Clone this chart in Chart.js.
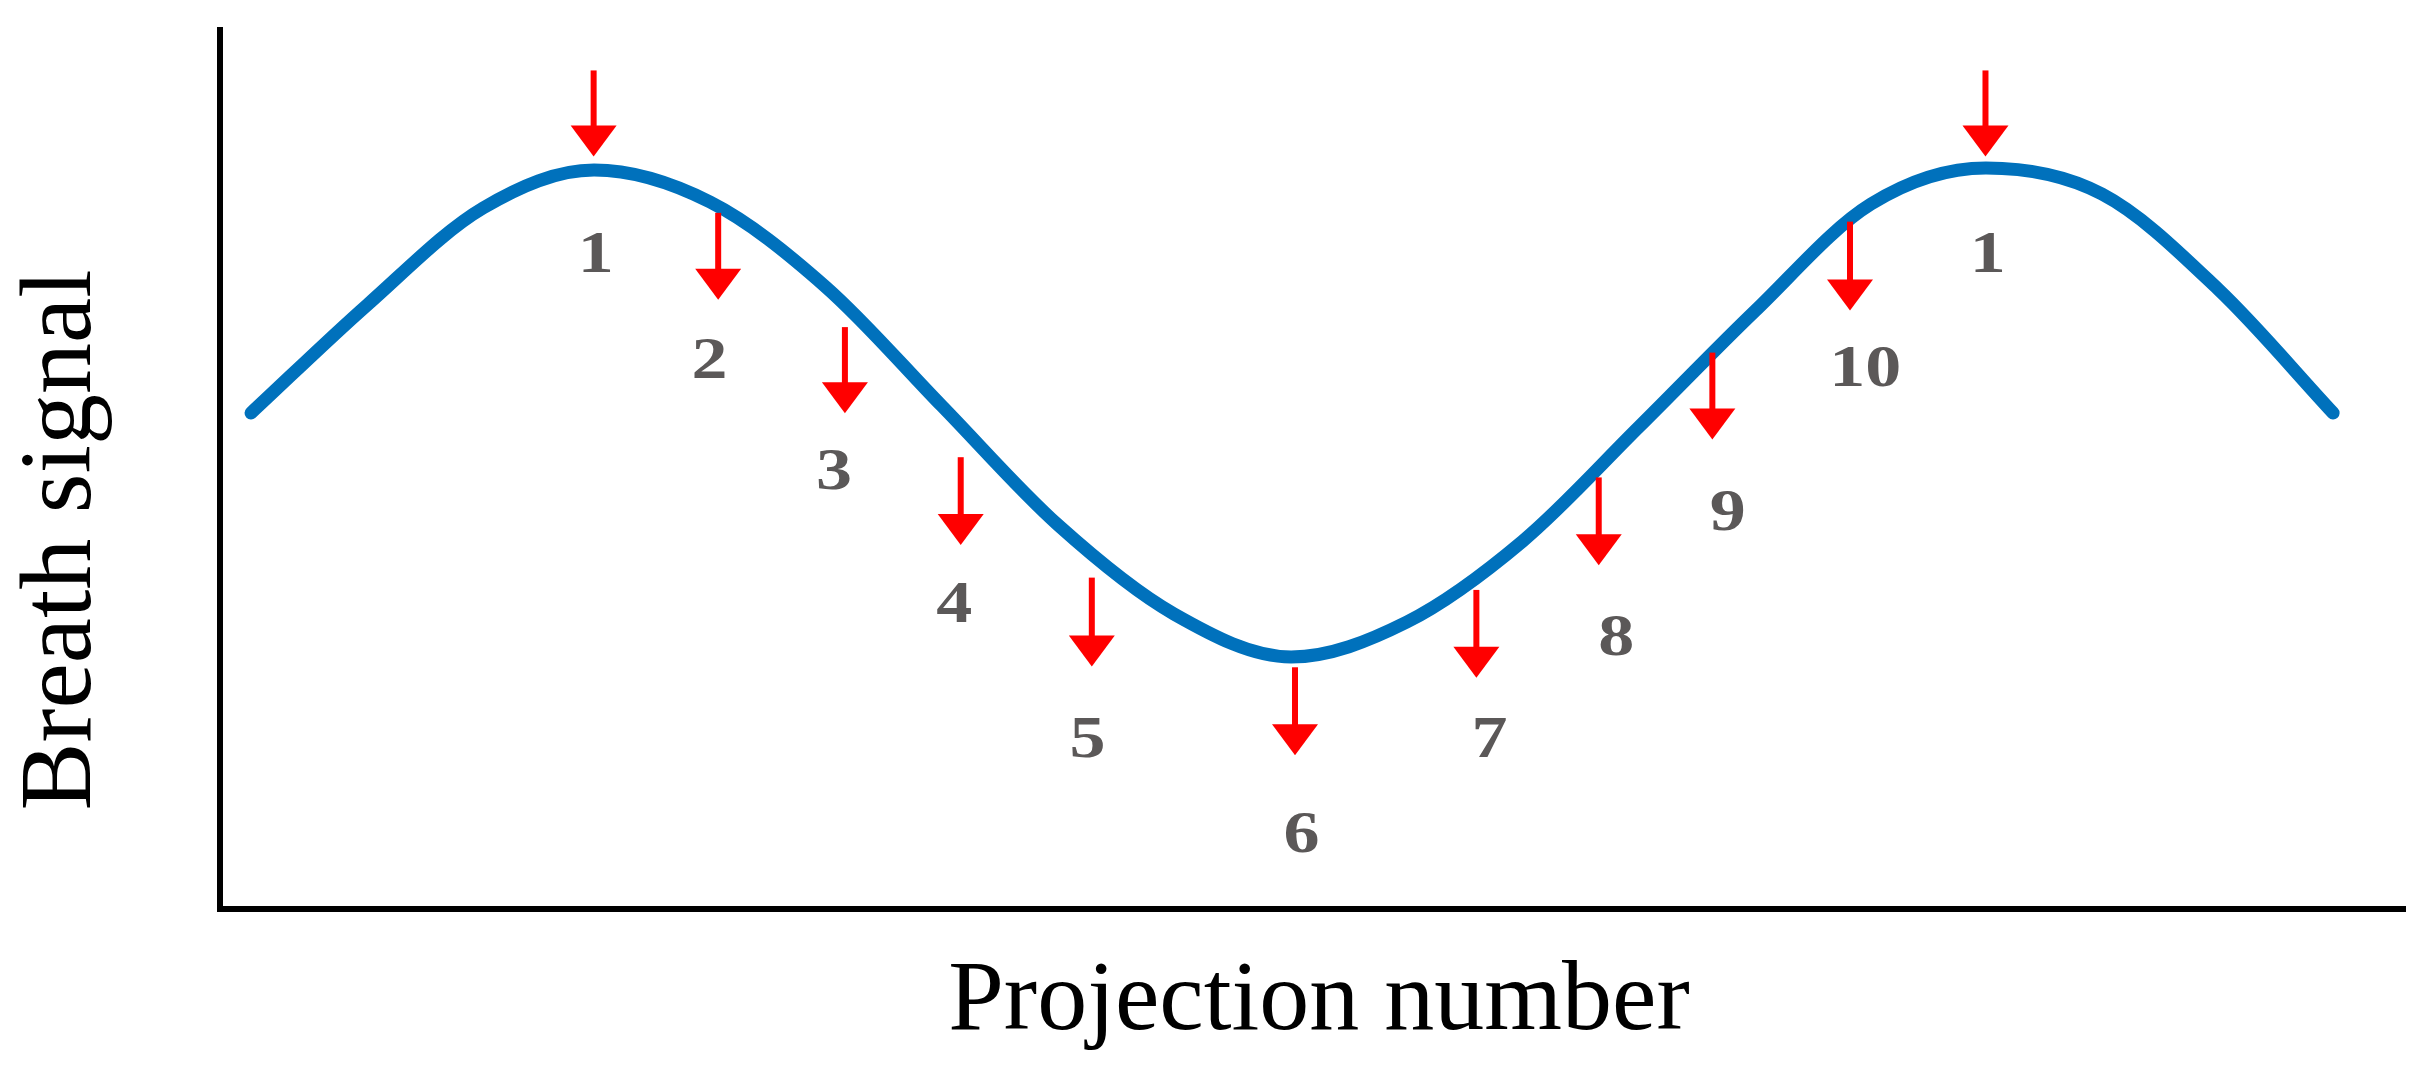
<!DOCTYPE html>
<html>
<head>
<meta charset="utf-8">
<title>Breath signal</title>
<script src="https://cdn.jsdelivr.net/npm/chart.js@4.4.1/dist/chart.umd.min.js"></script>
<style>
  html, body { margin: 0; padding: 0; background: #ffffff; }
  #contenedor { width: 2427px; height: 1083px; }
</style>
</head>
<body>
<div id="contenedor"><canvas id="grafica"></canvas></div>
<script>
// Curva de respiración (unidades arbitrarias 0-100)
const curvaX = [1.42, 6.73, 12.04, 17.12, 22.43, 27.73, 33.04, 38.35, 43.66, 49.02,
  54.32, 59.63, 64.94, 70.25, 75.56, 80.82, 86.13, 91.44, 96.71];
const curvaY = [56.43, 68.71, 79.75, 84.07, 80.43, 70.76, 57.22, 43.69, 33.56, 28.67,
  32.65, 41.87, 54.84, 68.03, 80.20, 84.30, 81.34, 70.53, 56.43];

// Flechas rojas (x, inicio y punta)
const flechaX = [17.1, 22.8, 28.6, 33.9, 39.9, 49.2, 57.5, 63.1, 68.3, 74.6, 80.8];
const flechaInicio = [95.4, 79.2, 66.2, 51.4, 37.7, 27.5, 36.3, 49.1, 63.3, 78.2, 95.4];
const flechaPunta = [85.6, 69.3, 56.4, 41.4, 27.6, 17.5, 26.3, 39.1, 53.4, 68.1, 85.6];

// Números de proyección
const etiquetas = ['1', '2', '3', '4', '5', '6', '7', '8', '9', '10', '1'];
const etiquetaX = [17.2, 22.4, 28.1, 33.6, 39.7, 49.5, 58.1, 63.9, 69.0, 75.3, 80.9];
const etiquetaY = [74.2, 62.2, 49.6, 34.4, 19.1, 8.3, 19.1, 30.7, 44.9, 61.3, 74.2];

const tituloX = 'Projection number';
const tituloY = 'Breath signal';

// Dibuja flechas y números usando las escalas del gráfico
const flechasPlugin = {
  id: 'flechas',
  afterDatasetsDraw(chart) {
    const ctx = chart.ctx;
    const escalaX = chart.scales.x;
    const escalaY = chart.scales.y;
    ctx.save();
    ctx.strokeStyle = '#ff0000';
    ctx.fillStyle = '#ff0000';
    ctx.lineWidth = 6;
    flechaX.forEach((fx, i) => {
      const px = escalaX.getPixelForValue(fx);
      const arriba = escalaY.getPixelForValue(flechaInicio[i]);
      const punta = escalaY.getPixelForValue(flechaPunta[i]);
      const cabeza = 31;
      ctx.beginPath();
      ctx.moveTo(px, arriba);
      ctx.lineTo(px, punta - cabeza + 2);
      ctx.stroke();
      ctx.beginPath();
      ctx.moveTo(px - 23, punta - cabeza);
      ctx.lineTo(px + 23, punta - cabeza);
      ctx.lineTo(px, punta);
      ctx.closePath();
      ctx.fill();
    });

    // Los números se ven algo ensanchados en la figura
    ctx.fillStyle = '#5b5858';
    ctx.font = 'bold 60px "Liberation Serif"';
    ctx.textAlign = 'center';
    ctx.textBaseline = 'middle';
    etiquetas.forEach((texto, i) => {
      ctx.save();
      ctx.translate(escalaX.getPixelForValue(etiquetaX[i]), escalaY.getPixelForValue(etiquetaY[i]));
      ctx.scale(1.2, 1);
      ctx.fillText(texto, 0, 0);
      ctx.restore();
    });
    ctx.restore();
  }
};

// Títulos de los ejes
const titulosPlugin = {
  id: 'titulos',
  afterDraw(chart) {
    const ctx = chart.ctx;
    ctx.save();
    ctx.fillStyle = '#000000';
    ctx.textAlign = 'center';
    ctx.textBaseline = 'middle';
    ctx.font = '100px "Liberation Serif"';
    ctx.fillText(tituloX, 1319, 1003);
    ctx.translate(63, 540);
    ctx.rotate(-Math.PI / 2);
    ctx.font = '102px "Liberation Serif"';
    ctx.fillText(tituloY, 0, 0);
    ctx.restore();
  }
};

const ejeSinMarcas = {
  type: 'linear',
  min: 0,
  max: 100,
  ticks: { display: false },
  grid: { display: false, drawTicks: false },
  border: { display: true, color: '#000000', width: 6 }
};

new Chart(document.getElementById('grafica'), {
  type: 'line',
  data: {
    datasets: [{
      data: curvaX.map((x, i) => ({ x: x, y: curvaY[i] })),
      borderColor: '#0071bc',
      borderWidth: 13,
      borderCapStyle: 'round',
      borderJoinStyle: 'round',
      pointRadius: 0,
      cubicInterpolationMode: 'monotone',
      fill: false
    }]
  },
  options: {
    responsive: true,
    maintainAspectRatio: false,
    animation: false,
    layout: {
      autoPadding: false,
      padding: { left: 220, top: 30, right: 22, bottom: 174 }
    },
    plugins: {
      legend: { display: false },
      tooltip: { enabled: false }
    },
    scales: {
      x: ejeSinMarcas,
      y: ejeSinMarcas
    }
  },
  plugins: [flechasPlugin, titulosPlugin]
});
</script>
</body>
</html>
